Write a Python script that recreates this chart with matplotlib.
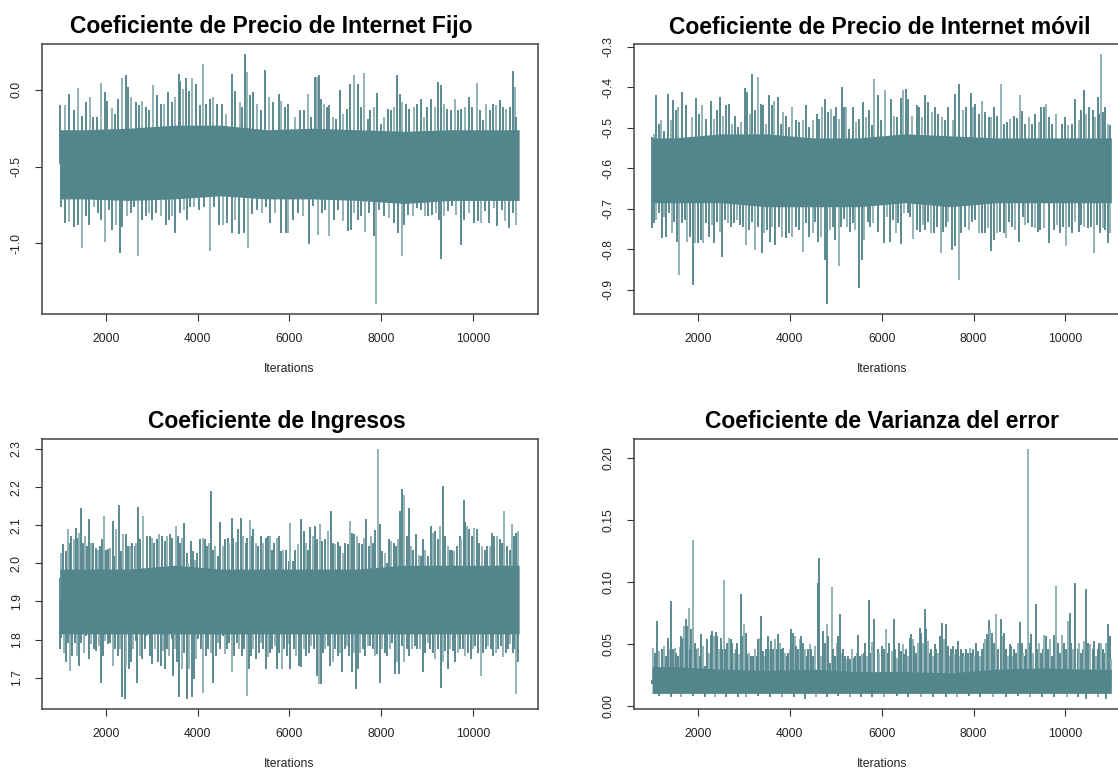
import numpy as np
import matplotlib
matplotlib.use("Agg")
import matplotlib.pyplot as plt

plt.rcParams['font.family'] = ['Liberation Sans', 'DejaVu Sans']

# ---------------- data ----------------
iter_start, iter_end = 1001, 11000
chunk_mid = [1500, 2500, 3500, 4500, 5500, 6500, 7500, 8500, 9500, 10500]
x_ticks = [2000, 4000, 6000, 8000, 10000]

titles = ["Coeficiente de Precio de Internet Fijo",
          "Coeficiente de Precio de Internet móvil",
          "Coeficiente de Ingresos",
          "Coeficiente de Varianza del error"]

# dense core of each trace, per 1000-iteration chunk (value at chunk middle)
fijo_core_hi = [-0.26, -0.25, -0.23, -0.23, -0.26, -0.25, -0.26, -0.27, -0.26, -0.26]
fijo_core_lo = [-0.71, -0.72, -0.71, -0.69, -0.71, -0.71, -0.72, -0.74, -0.72, -0.72]
movil_core_hi = [-0.525, -0.515, -0.515, -0.525, -0.525, -0.515, -0.52, -0.525, -0.525, -0.525]
movil_core_lo = [-0.685, -0.685, -0.695, -0.695, -0.695, -0.685, -0.695, -0.685, -0.685, -0.685]
ingr_core_hi = [1.985, 1.985, 1.995, 1.985, 1.985, 1.985, 1.985, 1.995, 1.995, 1.995]
ingr_core_lo = [1.815, 1.815, 1.815, 1.815, 1.815, 1.815, 1.815, 1.815, 1.815, 1.815]
var_core_hi = [0.032, 0.030, 0.029, 0.030, 0.028, 0.028, 0.027, 0.030, 0.031, 0.030]
var_core_lo = [0.0105, 0.0105, 0.0105, 0.0105, 0.0105, 0.0105, 0.0105, 0.0105, 0.0105, 0.0105]

# (iteration, value) of the excursions above / below the core
fijo_hi = [(1009,-0.10),(1110,-0.10),(1204,-0.03),(1313,-0.13),(1399,0.01),(1472,-0.17),(1566,-0.08),
    (1652,-0.05),(1732,-0.18),(1804,-0.18),(1891,0.045),(1978,-0.015),(2035,-0.07),(2129,-0.12),
    (2194,-0.155),(2267,-0.06),(2361,0.08),(2433,0.095),(2484,0.02),(2556,-0.05),(2650,-0.08),
    (2729,-0.10),(2794,-0.07),(2867,-0.11),(2939,-0.13),(3033,0.03),(3119,-0.035),(3192,-0.09),
    (3278,-0.09),(3365,-0.015),(3445,-0.08),(3517,-0.05),(3589,0.105),(3625,0.06),(3683,0.005),
    (3755,0.08),(3806,-0.005),(3878,0.08),(3965,0.04),(4059,-0.10),(4117,0.17),(4189,-0.09),
    (4276,-0.06),(4334,-0.05),(4420,-0.09),(4529,-0.09),(4623,-0.155),(4746,0.105),(4818,-0.005),
    (4912,-0.08),(4962,-0.11),(5042,0.233),(5071,0.115),(5143,-0.035),(5215,-0.015),(5288,-0.09),
    (5374,-0.13),(5468,0.13),(5562,-0.05),(5649,-0.08),(5772,-0.025),(5808,-0.07),(5902,-0.11),
    (5974,-0.09),(6112,-0.177),(6220,-0.134),(6314,-0.134),(6401,-0.026),(6473,-0.177),(6545,0.086),
    (6603,0.082),(6639,0.099),(6690,-0.058),(6762,-0.09),(6820,-0.112),(6870,-0.101),(6943,-0.177),
    (7015,-0.187),(7102,0.0),(7174,-0.155),(7253,-0.123),(7326,0.039),(7398,0.099),(7485,0.039),
    (7557,-0.112),(7629,0.108),(7701,-0.187),(7759,-0.134),(7831,-0.112),(7904,-0.019),(7991,-0.22),
    (8063,-0.177),(8135,-0.123),(8207,-0.134),(8265,-0.112),(8337,0.097),(8410,-0.026),(8460,-0.08),
    (8533,-0.09),(8605,-0.123),(8713,-0.112),(8785,-0.09),(8858,-0.058),(8930,-0.177),(9002,-0.112),
    (9089,-0.058),(9161,-0.112),(9241,0.05),(9306,0.028),(9364,-0.09),(9436,-0.123),(9508,-0.134),
    (9595,-0.058),(9667,-0.134),(9739,-0.123),(9812,-0.112),(9906,-0.047),(9978,-0.112),(10072,0.045),
    (10144,-0.134),(10216,-0.198),(10289,-0.09),(10361,-0.134),(10433,-0.09),(10506,-0.101),
    (10578,-0.069),(10650,-0.112),(10722,-0.123),(10795,-0.112),(10867,0.121),(10903,0.017),(10939,-0.177)]
fijo_lo = [(1024,-0.76),(1110,-0.87),(1204,-0.86),(1298,-0.89),(1385,-0.88),(1472,-1.03),(1566,-0.82),
    (1638,-0.88),(1746,-0.76),(1833,-0.80),(1891,-0.85),(1978,-0.99),(2072,-0.78),(2144,-0.91),
    (2216,-0.88),(2303,-1.06),(2361,-0.89),(2455,-0.82),(2541,-0.80),(2614,-0.76),(2708,-1.08),
    (2794,-0.85),(2867,-0.82),(2939,-0.80),(3011,-0.85),(3098,-0.80),(3192,-0.82),(3315,-0.88),
    (3372,-0.85),(3445,-0.82),(3517,-0.93),(3611,-0.80),(3698,-0.78),(3770,-0.85),(3842,-0.76),
    (3929,-0.76),(4023,-0.78),(4131,-0.76),(4276,-1.05),(4348,-0.76),(4456,-0.88),(4550,-0.88),
    (4637,-0.87),(4746,-0.93),(4818,-0.85),(4905,-0.94),(4999,-0.93),(5107,-1.03),(5179,-0.81),
    (5288,-0.78),(5396,-0.80),(5483,-0.76),(5577,-0.87),(5685,-0.80),(5815,-0.93),(5916,-0.93),
    (5974,-0.93),(6075,-0.845),(6184,-0.80),(6292,-0.823),(6415,-1.006),(6509,-0.759),(6617,-0.942),
    (6704,-0.80),(6776,-0.78),(6870,-0.953),(6979,-0.845),(7051,-0.78),(7159,-0.856),(7268,-0.92),
    (7340,-0.91),(7412,-0.80),(7485,-0.845),(7557,-0.823),(7644,-0.927),(7738,-0.80),(7831,-0.953),
    (7889,-1.394),(7954,-0.78),(8063,-0.823),(8171,-0.834),(8265,-0.866),(8352,-0.931),(8446,-1.082),
    (8496,-0.877),(8583,-0.812),(8699,-0.823),(8785,-0.769),(8858,-0.78),(8952,-0.823),(9017,-0.823),
    (9111,-0.812),(9183,-0.80),(9255,-0.845),(9306,-1.099),(9364,-0.823),(9450,-0.79),(9544,-0.759),
    (9631,-0.812),(9732,-1.013),(9797,-0.845),(9906,-0.80),(10014,-0.866),(10101,-0.856),(10159,-0.866),
    (10267,-0.79),(10354,-0.866),(10448,-0.769),(10520,-0.888),(10628,-0.78),(10701,-0.856),
    (10787,-0.899),(10867,-0.80),(10925,-0.877)]

movil_hi = [(1005,-0.523),(1041,-0.515),(1091,-0.42),(1150,-0.49),(1200,-0.482),(1259,-0.507),(1353,-0.416),
    (1404,-0.482),(1455,-0.431),(1513,-0.457),(1557,-0.449),(1659,-0.412),(1731,-0.445),(1877,-0.474),
    (1949,-0.426),(2022,-0.466),(2095,-0.445),(2167,-0.478),(2276,-0.434),(2349,-0.478),(2422,-0.457),
    (2480,-0.425),(2545,-0.47),(2618,-0.445),(2676,-0.441),(2734,-0.49),(2807,-0.47),(2880,-0.498),
    (2931,-0.486),(3018,-0.402),(3076,-0.412),(3127,-0.466),(3185,-0.367),(3243,-0.457),(3309,-0.374),
    (3367,-0.441),(3425,-0.445),(3476,-0.49),(3549,-0.42),(3607,-0.445),(3658,-0.433),(3745,-0.425),
    (3803,-0.49),(3854,-0.461),(3912,-0.47),(3985,-0.498),(4058,-0.449),(4130,-0.482),(4203,-0.486),
    (4290,-0.482),(4348,-0.445),(4421,-0.498),(4494,-0.482),(4581,-0.466),(4639,-0.478),(4697,-0.449),
    (4763,-0.429),(4821,-0.461),(4894,-0.453),(4952,-0.47),(5003,-0.449),(5061,-0.478),(5126,-0.40),
    (5170,-0.449),(5221,-0.449),(5294,-0.502),(5366,-0.449),(5439,-0.486),(5512,-0.478),(5584,-0.437),
    (5657,-0.474),(5730,-0.457),(5788,-0.494),(5839,-0.38),(5913,-0.42),(5986,-0.482),(6073,-0.408),
    (6146,-0.523),(6204,-0.429),(6277,-0.47),(6342,-0.474),(6415,-0.426),(6473,-0.408),(6531,-0.404),
    (6582,-0.429),(6655,-0.47),(6764,-0.445),(6822,-0.449),(6873,-0.474),(6946,-0.418),(7018,-0.437),
    (7091,-0.461),(7164,-0.449),(7236,-0.466),(7309,-0.474),(7382,-0.482),(7454,-0.449),(7542,-0.482),
    (7600,-0.416),(7673,-0.393),(7760,-0.457),(7832,-0.449),(7941,-0.415),(7999,-0.449),(8036,-0.441),
    (8109,-0.466),(8181,-0.434),(8254,-0.461),(8327,-0.474),(8385,-0.474),(8450,-0.448),(8516,-0.47),
    (8603,-0.392),(8654,-0.49),(8727,-0.486),(8799,-0.478),(8872,-0.47),(8945,-0.475),(9003,-0.418),
    (9054,-0.459),(9127,-0.49),(9199,-0.474),(9272,-0.49),(9345,-0.466),(9417,-0.486),(9468,-0.448),
    (9526,-0.449),(9577,-0.441),(9635,-0.474),(9708,-0.49),(9795,-0.466),(9926,-0.49),(9999,-0.474),
    (10057,-0.494),(10144,-0.49),(10217,-0.429),(10290,-0.482),(10341,-0.457),(10399,-0.407),
    (10450,-0.466),(10508,-0.449),(10595,-0.457),(10653,-0.474),(10704,-0.425),(10740,-0.466),
    (10784,-0.318),(10820,-0.461),(10871,-0.449),(10922,-0.49),(10980,-0.494)]
movil_lo = [(1004,-0.748),(1041,-0.734),(1091,-0.728),(1150,-0.711),(1208,-0.773),(1259,-0.72),(1310,-0.769),
    (1368,-0.711),(1426,-0.761),(1477,-0.732),(1535,-0.781),(1586,-0.863),(1659,-0.736),(1717,-0.728),
    (1768,-0.781),(1818,-0.769),(1891,-0.888),(1935,-0.785),(2007,-0.785),(2058,-0.777),(2117,-0.785),
    (2182,-0.736),(2240,-0.769),(2298,-0.74),(2356,-0.785),(2422,-0.732),(2473,-0.757),(2516,-0.818),
    (2589,-0.728),(2662,-0.736),(2720,-0.744),(2785,-0.736),(2858,-0.728),(2923,-0.74),(2989,-0.744),
    (3054,-0.789),(3113,-0.752),(3185,-0.732),(3243,-0.802),(3316,-0.744),(3389,-0.81),(3440,-0.761),
    (3512,-0.752),(3571,-0.781),(3621,-0.744),(3680,-0.789),(3767,-0.744),(3840,-0.769),(3912,-0.773),
    (3985,-0.761),(4058,-0.769),(4130,-0.744),(4203,-0.752),(4290,-0.806),(4348,-0.736),(4421,-0.769),
    (4494,-0.761),(4552,-0.732),(4617,-0.781),(4676,-0.769),(4763,-0.826),(4806,-0.935),(4872,-0.752),
    (4930,-0.744),(4988,-0.777),(5061,-0.84),(5112,-0.744),(5185,-0.724),(5243,-0.744),(5308,-0.757),
    (5366,-0.736),(5424,-0.752),(5497,-0.896),(5570,-0.826),(5621,-0.777),(5694,-0.732),(5744,-0.744),
    (5802,-0.736),(5913,-0.757),(6059,-0.785),(6109,-0.72),(6182,-0.781),(6255,-0.728),(6306,-0.761),
    (6364,-0.736),(6422,-0.787),(6495,-0.711),(6567,-0.711),(6618,-0.72),(6691,-0.775),(6764,-0.752),
    (6836,-0.757),(6895,-0.74),(6946,-0.752),(7004,-0.732),(7076,-0.761),(7149,-0.761),(7200,-0.744),
    (7287,-0.808),(7345,-0.757),(7396,-0.744),(7454,-0.732),(7527,-0.802),(7600,-0.793),(7673,-0.875),
    (7731,-0.761),(7818,-0.744),(7891,-0.752),(7963,-0.732),(8036,-0.728),(8123,-0.761),(8181,-0.759),
    (8254,-0.761),(8312,-0.748),(8385,-0.803),(8436,-0.777),(8509,-0.759),(8581,-0.757),(8654,-0.761),
    (8712,-0.773),(8763,-0.732),(8836,-0.744),(8908,-0.752),(8996,-0.781),(9068,-0.72),(9127,-0.74),
    (9185,-0.734),(9272,-0.744),(9345,-0.748),(9403,-0.757),(9454,-0.752),(9526,-0.748),(9650,-0.785),
    (9744,-0.752),(9817,-0.74),(9890,-0.761),(9941,-0.744),(10013,-0.793),(10072,-0.744),(10144,-0.761),
    (10217,-0.732),(10290,-0.757),(10348,-0.74),(10399,-0.744),(10493,-0.748),(10566,-0.744),
    (10631,-0.81),(10690,-0.74),(10762,-0.761),(10820,-0.748),(10871,-0.752),(10929,-0.785),(10980,-0.761)]

ingr_hi = [(1001,1.962),(1033,2.028),(1069,2.05),(1127,2.032),(1185,2.089),(1214,2.054),(1251,2.071),
    (1302,2.063),(1345,2.093),(1396,2.067),(1418,2.08),(1461,2.146),(1505,2.054),(1556,2.071),(1600,2.045),
    (1636,2.117),(1687,2.054),(1723,2.054),(1781,2.041),(1832,2.036),(1869,2.045),(1912,2.063),
    (1970,2.124),(2014,2.036),(2050,2.038),(2101,2.041),(2152,2.111),(2196,2.019),(2232,2.089),
    (2298,2.154),(2334,2.032),(2378,2.078),(2436,2.078),(2487,2.045),(2523,2.045),(2581,2.054),
    (2632,2.045),(2668,2.054),(2712,2.147),(2756,2.063),(2814,2.125),(2901,2.071),(2959,2.071),
    (3003,2.067),(3046,2.054),(3105,2.063),(3163,2.076),(3221,2.073),(3286,2.058),(3344,2.071),
    (3395,2.076),(3453,2.067),(3526,2.099),(3577,2.071),(3613,2.054),(3664,2.067),(3708,2.106),
    (3759,2.028),(3795,2.002),(3846,2.058),(3904,2.032),(3941,2.01),(3991,2.028),(4050,2.063),
    (4108,2.067),(4159,2.063),(4195,2.045),(4239,2.054),(4282,2.189),(4326,2.036),(4377,2.045),
    (4435,2.019),(4486,2.108),(4544,2.045),(4602,2.063),(4653,2.067),(4689,2.054),(4740,2.119),
    (4777,2.067),(4835,2.056),(4871,2.089),(4937,2.119),(4995,2.071),(5046,2.054),(5082,2.067),
    (5140,2.115),(5184,2.071),(5213,2.089),(5271,2.054),(5322,2.045),(5373,2.071),(5431,2.054),
    (5489,2.067),(5540,2.071),(5576,2.071),(5627,2.036),(5671,2.054),(5722,2.067),(5766,2.071),
    (5809,2.032),(5867,2.036),(5925,2.036),(5983,2.006),(6012,2.106),(6066,2.006),(6124,2.036),
    (6183,2.05),(6255,2.117),(6306,2.084),(6357,2.054),(6401,2.036),(6452,2.096),(6502,2.071),
    (6546,2.098),(6597,2.063),(6655,2.102),(6706,2.058),(6779,2.063),(6837,2.084),(6902,2.137),
    (6946,2.054),(6997,2.05),(7055,2.056),(7106,2.045),(7164,2.028),(7215,2.054),(7266,2.05),
    (7309,2.111),(7360,2.08),(7411,2.076),(7462,2.071),(7520,2.054),(7578,2.05),(7622,2.067),
    (7673,2.117),(7724,2.045),(7775,2.071),(7818,2.054),(7869,2.087),(7927,2.30),(7971,2.102),
    (8015,2.032),(8073,2.028),(8116,2.002),(8175,2.063),(8218,2.058),(8269,2.054),(8313,2.045),
    (8356,2.063),(8407,2.137),(8451,2.194),(8494,2.178),(8553,2.071),(8596,2.146),(8640,2.045),
    (8698,2.036),(8756,2.076),(8814,2.023),(8858,2.019),(8909,2.064),(8960,2.036),(9018,2.019),
    (9076,2.098),(9120,2.08),(9178,2.084),(9236,2.063),(9287,2.098),(9352,2.202),(9396,2.071),
    (9447,2.045),(9505,2.036),(9541,2.036),(9592,2.032),(9650,2.045),(9709,2.071),(9745,2.063),
    (9789,2.166),(9818,2.108),(9868,2.098),(9919,2.089),(9978,2.071),(10028,2.093),(10087,2.089),
    (10137,2.054),(10195,2.045),(10254,2.036),(10305,2.045),(10356,2.045),(10399,2.08),(10457,2.071),
    (10523,2.071),(10574,2.063),(10632,2.054),(10675,2.137),(10741,2.045),(10792,2.036),(10843,2.104),
    (10886,2.071),(10937,2.08),(10981,2.084)]
ingr_lo = [(1001,1.775),(1033,1.805),(1083,1.766),(1142,1.74),(1185,1.792),(1229,1.718),(1272,1.757),
    (1323,1.792),(1374,1.757),(1418,1.731),(1469,1.792),(1520,1.766),(1578,1.81),(1636,1.749),
    (1687,1.788),(1745,1.775),(1796,1.77),(1854,1.783),(1890,1.687),(1941,1.757),(1992,1.797),
    (2050,1.788),(2101,1.792),(2159,1.731),(2210,1.775),(2268,1.757),(2312,1.775),(2363,1.648),
    (2414,1.644),(2450,1.731),(2508,1.722),(2545,1.74),(2596,1.775),(2654,1.797),(2690,1.687),
    (2741,1.757),(2799,1.749),(2850,1.775),(2901,1.81),(2959,1.757),(3017,1.735),(3068,1.775),
    (3148,1.74),(3199,1.731),(3250,1.77),(3294,1.722),(3344,1.775),(3381,1.757),(3432,1.801),
    (3468,1.705),(3504,1.775),(3541,1.74),(3599,1.648),(3650,1.722),(3701,1.766),(3759,1.644),
    (3810,1.722),(3868,1.648),(3919,1.696),(3962,1.749),(4013,1.801),(4071,1.775),(4122,1.661),
    (4173,1.757),(4217,1.775),(4282,1.766),(4340,1.687),(4391,1.757),(4435,1.792),(4486,1.775),
    (4544,1.81),(4595,1.762),(4646,1.775),(4689,1.792),(4740,1.714),(4791,1.757),(4849,1.792),
    (4900,1.775),(4958,1.757),(5009,1.775),(5067,1.653),(5111,1.722),(5155,1.757),(5213,1.775),
    (5271,1.749),(5329,1.766),(5380,1.792),(5431,1.775),(5482,1.722),(5540,1.753),(5576,1.766),
    (5627,1.775),(5685,1.783),(5736,1.722),(5780,1.766),(5831,1.722),(5882,1.775),(5940,1.757),
    (5998,1.788),(6015,1.722),(6088,1.775),(6139,1.757),(6197,1.731),(6255,1.727),(6306,1.775),
    (6357,1.757),(6415,1.766),(6473,1.783),(6524,1.775),(6590,1.705),(6633,1.683),(6684,1.683),
    (6728,1.766),(6779,1.775),(6837,1.783),(6888,1.731),(6939,1.74),(6997,1.775),(7048,1.757),
    (7106,1.766),(7142,1.714),(7200,1.775),(7251,1.783),(7302,1.757),(7360,1.714),(7397,1.766),
    (7440,1.67),(7491,1.722),(7542,1.766),(7593,1.775),(7651,1.757),(7709,1.783),(7760,1.783),
    (7811,1.775),(7855,1.757),(7913,1.762),(7964,1.687),(8015,1.775),(8073,1.766),(8124,1.757),
    (8182,1.775),(8233,1.792),(8291,1.709),(8342,1.74),(8393,1.709),(8451,1.783),(8502,1.74),
    (8560,1.775),(8611,1.757),(8669,1.775),(8727,1.783),(8785,1.775),(8836,1.775),(8909,1.714),
    (8960,1.766),(9018,1.792),(9069,1.775),(9127,1.766),(9178,1.749),(9236,1.775),(9294,1.674),
    (9338,1.74),(9396,1.77),(9454,1.722),(9505,1.775),(9556,1.77),(9614,1.74),(9672,1.766),
    (9723,1.775),(9774,1.775),(9832,1.757),(9890,1.766),(9948,1.749),(9999,1.775),(10050,1.783),
    (10108,1.766),(10159,1.705),(10210,1.766),(10268,1.775),(10326,1.783),(10377,1.775),(10428,1.757),
    (10486,1.766),(10537,1.775),(10595,1.783),(10646,1.753),(10705,1.766),(10755,1.775),(10806,1.788),
    (10864,1.766),(10908,1.775),(10937,1.657),(10981,1.74)]

var_hi = [(1001,0.018),(1019,0.0473),(1055,0.0433),(1099,0.0684),(1142,0.0447),(1186,0.0299),(1222,0.046),
    (1258,0.0487),(1295,0.0406),(1346,0.0553),(1382,0.046),(1418,0.085),(1455,0.046),(1491,0.0473),
    (1527,0.0433),(1564,0.0406),(1600,0.0481),(1637,0.0567),(1673,0.0553),(1695,0.0647),(1731,0.0706),
    (1767,0.0647),(1796,0.0794),(1826,0.046),(1855,0.062),(1891,0.1342),(1927,0.0513),(1964,0.046),
    (2000,0.0473),(2036,0.0406),(2073,0.058),(2109,0.0487),(2145,0.0326),(2189,0.054),(2233,0.0433),
    (2276,0.0572),(2305,0.0607),(2349,0.0567),(2385,0.0599),(2422,0.0567),(2458,0.046),(2494,0.0553),
    (2523,0.046),(2560,0.1016),(2596,0.046),(2640,0.0513),(2676,0.0553),(2712,0.054),(2749,0.0513),
    (2785,0.0433),(2822,0.046),(2858,0.0513),(2887,0.042),(2931,0.0901),(2974,0.0567),(3003,0.066),
    (3040,0.0594),(3076,0.042),(3112,0.0433),(3149,0.0406),(3192,0.0406),(3236,0.046),(3280,0.0406),
    (3309,0.054),(3345,0.0553),(3381,0.0727),(3418,0.0447),(3454,0.0406),(3490,0.046),(3527,0.0567),
    (3563,0.046),(3599,0.0527),(3636,0.046),(3672,0.054),(3716,0.046),(3745,0.0586),(3781,0.0513),
    (3817,0.046),(3854,0.0473),(3890,0.0433),(3934,0.0406),(3963,0.0433),(3999,0.046),(4036,0.062),
    (4079,0.0594),(4108,0.0567),(4145,0.0487),(4181,0.046),(4217,0.054),(4254,0.0567),(4290,0.0513),
    (4326,0.046),(4370,0.0406),(4399,0.046),(4443,0.05),(4472,0.046),(4515,0.0406),(4559,0.0487),
    (4603,0.0995),(4632,0.1195),(4675,0.0406),(4719,0.0607),(4763,0.0513),(4799,0.066),(4835,0.0567),
    (4872,0.0353),(4908,0.096),(4944,0.046),(4981,0.0406),(5017,0.0513),(5053,0.0567),(5082,0.0746),
    (5126,0.0433),(5162,0.046),(5199,0.0406),(5235,0.038),(5272,0.0406),(5315,0.038),(5344,0.046),
    (5388,0.0393),(5417,0.0406),(5453,0.0433),(5490,0.0572),(5533,0.0406),(5562,0.042),(5606,0.0433),
    (5635,0.0513),(5679,0.0406),(5722,0.0856),(5766,0.0433),(5795,0.0521),(5839,0.07),(5913,0.046),
    (5949,0.0433),(6000,0.0487),(6043,0.046),(6094,0.0626),(6130,0.0433),(6167,0.0513),(6218,0.0447),
    (6261,0.0706),(6290,0.046),(6326,0.0393),(6370,0.0513),(6421,0.0447),(6457,0.05),(6493,0.042),
    (6530,0.046),(6566,0.0406),(6610,0.0553),(6639,0.0586),(6675,0.054),(6711,0.0487),(6755,0.0433),
    (6784,0.0513),(6827,0.0634),(6856,0.0594),(6893,0.0513),(6944,0.0781),(6973,0.0626),(7002,0.0527),
    (7045,0.0433),(7074,0.046),(7118,0.0406),(7161,0.05),(7190,0.046),(7234,0.0433),(7270,0.0567),
    (7314,0.0674),(7350,0.054),(7401,0.0666),(7437,0.0487),(7481,0.0406),(7517,0.046),(7553,0.0487),
    (7582,0.042),(7619,0.046),(7655,0.0527),(7699,0.0406),(7728,0.046),(7771,0.0433),(7800,0.0406),
    (7844,0.046),(7873,0.0433),(7916,0.0473),(7945,0.0433),(7982,0.046),(8018,0.0406),(8062,0.0513),
    (8105,0.0447),(8149,0.0406),(8178,0.046),(8221,0.0513),(8258,0.0545),(8294,0.058),(8330,0.0693),
    (8366,0.062),(8403,0.0594),(8454,0.0513),(8497,0.0746),(8541,0.046),(8599,0.07),(8635,0.0567),
    (8671,0.0594),(8708,0.046),(8744,0.0406),(8788,0.05),(8817,0.0487),(8860,0.0406),(8889,0.046),
    (8933,0.0433),(8969,0.0513),(9013,0.0682),(9049,0.0513),(9085,0.0433),(9122,0.0406),(9151,0.046),
    (9187,0.207),(9223,0.0513),(9259,0.0586),(9303,0.0433),(9361,0.0826),(9397,0.046),(9434,0.0513),
    (9470,0.0433),(9506,0.046),(9543,0.0572),(9579,0.0567),(9615,0.046),(9659,0.054),(9702,0.0406),
    (9760,0.0572),(9797,0.0968),(9833,0.0513),(9877,0.0433),(9920,0.0572),(9964,0.0513),(10015,0.046),
    (10051,0.0687),(10094,0.0754),(10123,0.0513),(10160,0.046),(10218,0.0995),(10269,0.046),
    (10305,0.0513),(10341,0.0433),(10378,0.046),(10414,0.0527),(10457,0.0941),(10501,0.0513),
    (10544,0.05),(10595,0.046),(10632,0.0527),(10668,0.0406),(10704,0.046),(10741,0.0513),
    (10777,0.0513),(10813,0.046),(10849,0.0433),(10886,0.0513),(10929,0.066),(10965,0.0567),(10994,0.038)]
var_lo = [(1150,0.0085),(1420,0.0080),(1620,0.0078),(1890,0.0082),(2150,0.0080),(2380,0.0079),
    (2600,0.0076),(2880,0.0080),(3050,0.0078),(3310,0.0082),(3560,0.0079),(3830,0.0080),(4100,0.0077),
    (4330,0.0060),(4560,0.0080),(4800,0.0078),(5050,0.0081),(5300,0.0079),(5560,0.0076),(5800,0.0080),
    (6060,0.0079),(6330,0.0081),(6580,0.0075),(6850,0.0080),(7120,0.0078),(7400,0.0080),(7640,0.0079),
    (7900,0.0081),(8150,0.0080),(8420,0.0078),(8700,0.0079),(8960,0.0081),(9230,0.0080),(9500,0.0078),
    (9760,0.0077),(10030,0.0079),(10280,0.0080),(10450,0.0062),(10700,0.0076),(10890,0.0060)]

y_ticks = [[-1.0, -0.5, 0.0],
           [-0.9, -0.8, -0.7, -0.6, -0.5, -0.4, -0.3],
           [1.7, 1.8, 1.9, 2.0, 2.1, 2.2, 2.3],
           [0.00, 0.05, 0.10, 0.15, 0.20]]
y_fmt = ["{:.1f}", "{:.1f}", "{:.1f}", "{:.2f}"]

# ---------------- drawing ----------------
W, H = 1118, 772
COL = "#53868B"
COL_LIGHT = "#8fb1b4"
fig = plt.figure(figsize=(W / 100, H / 100), dpi=100)

def px_axes(left, top, w, h):
    return fig.add_axes([left / W, 1 - (top + h) / H, w / W, h / H])

axes_px = [(41.5, 44, 496, 270), (633.7, 44, 496, 270),
           (41.5, 439, 496, 270), (633.7, 439, 496, 270)]
title_px = [(271, 27), (880, 28), (277, 421), (882, 421)]

panels = [(fijo_core_hi, fijo_core_lo, fijo_hi, fijo_lo),
          (movil_core_hi, movil_core_lo, movil_hi, movil_lo),
          (ingr_core_hi, ingr_core_lo, ingr_hi, ingr_lo),
          (var_core_hi, var_core_lo, var_hi, var_lo)]

for k, (core_hi, core_lo, hi, lo) in enumerate(panels):
    ax = px_axes(*axes_px[k])
    cx = np.array([iter_start] + chunk_mid + [iter_end], float)
    chi = np.array([core_hi[0]] + core_hi + [core_hi[-1]])
    clo = np.array([core_lo[0]] + core_lo + [core_lo[-1]])
    ax.fill_between(cx, clo, chi, color=COL, lw=0, zorder=3)
    mid = (chi + clo) / 2

    hi_it = np.array([p[0] for p in hi], float)
    hi_v = np.array([p[1] for p in hi])
    lo_it = np.array([p[0] for p in lo], float)
    lo_v = np.array([p[1] for p in lo])
    base_hi = np.interp(hi_it, cx, mid)
    base_lo = np.interp(lo_it, cx, mid)
    cols_hi = [COL_LIGHT if i % 3 == 1 else COL for i in range(len(hi_it))]
    cols_lo = [COL_LIGHT if i % 3 == 2 else COL for i in range(len(lo_it))]
    ax.vlines(hi_it, base_hi, hi_v, colors=cols_hi, lw=1.35, zorder=2)
    ax.vlines(lo_it, lo_v, base_lo, colors=cols_lo, lw=1.35, zorder=2)

    vmax = max(hi_v.max(), max(core_hi))
    vmin = min(lo_v.min(), min(core_lo))
    pad = 0.04 * (vmax - vmin)
    ax.set_ylim(vmin - pad, vmax + pad)
    xr = iter_end - iter_start
    ax.set_xlim(iter_start - 0.04 * xr, iter_end + 0.04 * xr)

    ax.set_xticks(x_ticks)
    ax.set_xticklabels([str(t) for t in x_ticks])
    ax.set_yticks(y_ticks[k])
    ax.set_yticklabels([y_fmt[k].format(t) for t in y_ticks[k]], rotation=90, va='center')
    ax.tick_params(axis='both', direction='out', length=5, width=0.8, color='#333333',
                   labelsize=8.7, labelcolor='#222222', pad=8.5)
    for s in ax.spines.values():
        s.set_color('#444444')
        s.set_linewidth(1.1)
        s.set_zorder(5)
    ax.set_xlabel("Iterations", fontsize=8.8, color='#222222')
    ax.xaxis.set_label_coords(0.5, -(369 - 314) / 270)
    ax.xaxis.label.set_va('center')

    tx, ty = title_px[k]
    fig.text(tx / W, 1 - ty / H, titles[k], ha='center', va='center',
             fontsize=16.5, fontweight='bold', color='black')

fig.savefig("out.png", dpi=100)
